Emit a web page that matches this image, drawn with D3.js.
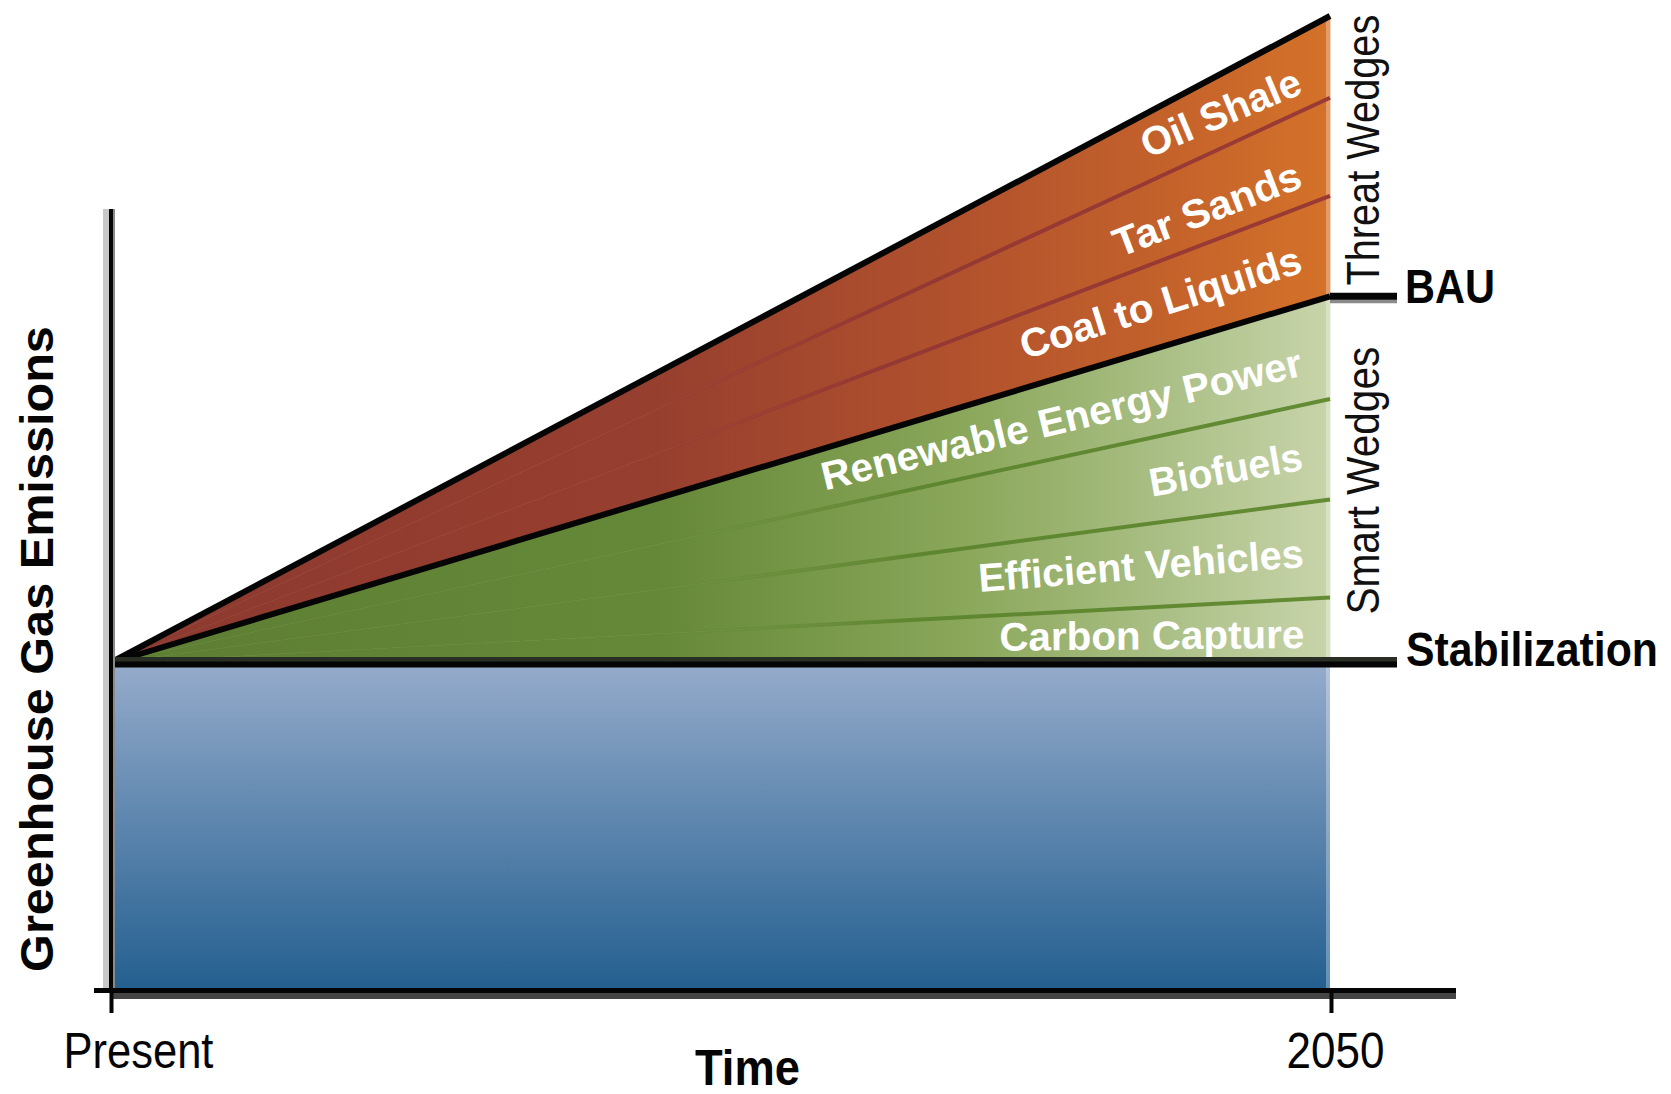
<!DOCTYPE html>
<html>
<head>
<meta charset="utf-8">
<script src="https://cdn.jsdelivr.net/npm/d3@7"></script>
<style>
  html, body { margin: 0; padding: 0; background: #ffffff; }
  svg { display: block; }
  text { font-family: "Liberation Sans", Arial, Helvetica, sans-serif; }
</style>
</head>
<body>
<svg id="chart" width="1671" height="1094"></svg>
<script>
// ---- data -------------------------------------------------------------
// time runs from the present (0) to 2050 (1)
const timeTicks = [0, 1];
const timeLabels = ["Present", "2050"];

// emissions level held flat under a stabilization path
const stabilization = 7;

// smart wedges: reductions reached by 2050, stacked upward from stabilization
const smartNames  = ["Carbon Capture", "Efficient Vehicles", "Biofuels", "Renewable Energy Power"];
const smartValues = [1.4, 2.1, 2.15, 2.2];

// threat wedges: extra emissions reached by 2050, stacked upward from BAU
const threatNames  = ["Coal to Liquids", "Tar Sands", "Oil Shale"];
const threatValues = [2.15, 2.1, 1.75];

// ---- layout -----------------------------------------------------------
const svg = d3.select("#chart");
const x = d3.scaleLinear().domain([0, 1]).range([110, 1330]);
const y = d3.scaleLinear().domain([0, stabilization]).range([990, 663]);
const marginLineEnd = 1397;          // right-hand reference lines stop here
const axisEnd = 1456;                // x axis runs past 2050
const yAxisTop = 209;

const smartTops  = Array.from(d3.cumsum(smartValues), v => stabilization + v);
const bau        = smartTops[smartTops.length - 1];
const threatTops = Array.from(d3.cumsum(threatValues), v => bau + v);
const peak       = threatTops[threatTops.length - 1];

const wedges = [];
smartNames.forEach((n, i) => wedges.push({
  name: n, group: "smart",
  lo: i === 0 ? stabilization : smartTops[i - 1], hi: smartTops[i]
}));
threatNames.forEach((n, i) => wedges.push({
  name: n, group: "threat",
  lo: i === 0 ? bau : threatTops[i - 1], hi: threatTops[i]
}));

// every wedge grows linearly from the stabilization level at present
const level = (v, t) => stabilization + t * (v - stabilization);
const ts = [0, 1];

// Narrow, tall lettering: pick a font size that gives the wanted run length,
// then stretch the glyphs across the baseline to the wanted height.
function tallText(parent, str, o) {
  const t = parent.append("text")
    .attr("font-size", o.size)
    .attr("font-weight", o.weight || "normal")
    .attr("fill", o.fill || "#050505")
    .attr("text-anchor", o.anchor || "start")
    .text(str);
  const natural = t.node().getComputedTextLength();
  const fs = o.size * o.len / natural;
  const k = o.size / fs;
  t.attr("font-size", fs)
   .attr("transform", `translate(${o.x},${o.y}) rotate(${o.rotate || 0}) scale(1,${k})`);
  return t;
}

// ---- gradients --------------------------------------------------------
const defs = svg.append("defs");
function hGrad(id, stops) {
  const g = defs.append("linearGradient").attr("id", id)
    .attr("gradientUnits", "userSpaceOnUse")
    .attr("x1", x(0)).attr("x2", x(1)).attr("y1", 0).attr("y2", 0);
  stops.forEach(([o, c, a]) => g.append("stop").attr("offset", o)
    .attr("stop-color", c).attr("stop-opacity", a === undefined ? 1 : a));
}
hGrad("threatFill", [[0, "#8c392f"], [0.45, "#973f2f"], [0.7, "#b2522d"], [0.87, "#c4622b"], [1, "#d4722a"]]);
hGrad("smartFill",  [[0, "#5d7e33"], [0.45, "#658838"], [0.7, "#8aa75a"], [0.87, "#abc087"], [1, "#c8d4aa"]]);
// dividers fade in from the left so they vanish into the darker fill
hGrad("threatLine", [[0, "#943833", 0], [0.42, "#943833", 0], [0.62, "#943833", 1], [1, "#9a3a34", 1]]);
hGrad("smartLine",  [[0, "#5e8530", 0], [0.45, "#5e8530", 0], [0.66, "#5e8530", 1], [1, "#638c33", 1]]);
const bg = defs.append("linearGradient").attr("id", "baseFill")
  .attr("gradientUnits", "userSpaceOnUse")
  .attr("x1", 0).attr("x2", 0).attr("y1", y(stabilization)).attr("y2", y(0));
bg.append("stop").attr("offset", 0).attr("stop-color", "#95abcb");
bg.append("stop").attr("offset", 1).attr("stop-color", "#235f8f");

// ---- areas ------------------------------------------------------------
const plot = svg.append("g");

// base emissions below stabilization
plot.append("path")
  .datum(ts)
  .attr("fill", "url(#baseFill)")
  .attr("d", d3.area().x(t => x(t)).y0(y(0)).y1(y(stabilization)));

// wedges
plot.selectAll("path.wedge")
  .data(wedges)
  .join("path")
  .attr("class", "wedge")
  .attr("fill", d => d.group === "smart" ? "url(#smartFill)" : "url(#threatFill)")
  .attr("stroke", d => d.group === "smart" ? "url(#smartFill)" : "url(#threatFill)")
  .attr("stroke-width", 0.6)
  .attr("d", d => d3.area()
    .x(t => x(t))
    .y0(t => y(level(d.lo, t)))
    .y1(t => y(level(d.hi, t)))(ts));

// soft highlight along the 2050 edge
plot.append("line")
  .attr("x1", x(1) - 2).attr("x2", x(1) - 2)
  .attr("y1", y(level(peak, 1))).attr("y2", y(0))
  .attr("stroke", "#ffffff").attr("stroke-opacity", 0.3).attr("stroke-width", 4);

// thin dividers between wedges of the same group
const divider = v => d3.line().x(t => x(t)).y(t => y(level(v, t)))(ts);
plot.selectAll("path.threat-div")
  .data(threatTops.slice(0, -1))
  .join("path")
  .attr("class", "threat-div")
  .attr("fill", "none").attr("stroke", "url(#threatLine)").attr("stroke-width", 4)
  .attr("d", divider);
plot.selectAll("path.smart-div")
  .data(smartTops.slice(0, -1))
  .join("path")
  .attr("class", "smart-div")
  .attr("fill", "none").attr("stroke", "url(#smartLine)").attr("stroke-width", 4)
  .attr("d", divider);

// heavy outlines: top of threat wedges and BAU
plot.append("path")
  .attr("fill", "none").attr("stroke", "#050505").attr("stroke-width", 6)
  .attr("d", divider(peak));
plot.append("path")
  .attr("fill", "none").attr("stroke", "#050505").attr("stroke-width", 6)
  .attr("d", divider(bau));

// BAU reference line to the margin
svg.append("line")
  .attr("x1", x(1)).attr("x2", marginLineEnd)
  .attr("y1", y(bau) + 5).attr("y2", y(bau) + 5)
  .attr("stroke", "#8a8a8a").attr("stroke-width", 4);
svg.append("line")
  .attr("x1", x(1)).attr("x2", marginLineEnd)
  .attr("y1", y(bau)).attr("y2", y(bau))
  .attr("stroke", "#050505").attr("stroke-width", 7);

// stabilization line across the chart and into the margin
svg.append("line")
  .attr("x1", x(0)).attr("x2", marginLineEnd)
  .attr("y1", y(stabilization) - 3).attr("y2", y(stabilization) - 3)
  .attr("stroke", "#2a2f26").attr("stroke-width", 6);
svg.append("line")
  .attr("x1", x(0)).attr("x2", marginLineEnd)
  .attr("y1", y(stabilization) + 1.5).attr("y2", y(stabilization) + 1.5)
  .attr("stroke", "#050505").attr("stroke-width", 6);

// ---- wedge labels -----------------------------------------------------
const labelStyle = {
  "Oil Shale":              { angle: -22.8, dy: 23, len: 170 },
  "Tar Sands":              { angle: -21,   dy: 29, len: 198 },
  "Coal to Liquids":        { angle: -17.4, dy: 17, len: 293 },
  "Renewable Energy Power": { angle: -13.5, dy: 21, len: 493 },
  "Biofuels":               { angle: -10,   dy: 16, len: 155 },
  "Efficient Vehicles":     { angle: -4.4,  dy: 16, len: 326 },
  "Carbon Capture":         { angle: -0.5,  dy: 17, len: 305 }
};
const labelAt = 0.979;
const labelLayer = svg.append("g");
wedges.forEach(d => {
  const s = labelStyle[d.name];
  const mid = (y(level(d.lo, labelAt)) + y(level(d.hi, labelAt))) / 2;
  tallText(labelLayer, d.name, {
    x: x(labelAt), y: mid + s.dy, rotate: s.angle, len: s.len,
    size: 40, weight: "bold", fill: "#ffffff", anchor: "end"
  });
});

// ---- axes -------------------------------------------------------------
// y axis: soft halo, then the line itself
svg.append("line").attr("x1", 106).attr("x2", 106).attr("y1", yAxisTop).attr("y2", y(0))
  .attr("stroke", "#c8c8c8").attr("stroke-width", 6);
svg.append("line").attr("x1", 114).attr("x2", 114).attr("y1", yAxisTop).attr("y2", y(0))
  .attr("stroke", "#8a8a8a").attr("stroke-width", 2);
const yAxis = svg.append("g")
  .attr("transform", `translate(${x(0) + 1},0)`)
  .call(d3.axisLeft(y).tickValues([0]).tickSize(17).tickFormat("").tickSizeOuter(0));
yAxis.select(".domain").remove();
yAxis.selectAll(".tick line").attr("stroke", "#050505").attr("stroke-width", 5);
svg.append("line").attr("x1", x(0) + 1).attr("x2", x(0) + 1).attr("y1", yAxisTop).attr("y2", y(0))
  .attr("stroke", "#050505").attr("stroke-width", 4);

// x axis: dark shadow below a black rule
svg.append("line").attr("x1", x(0)).attr("x2", axisEnd).attr("y1", y(0) + 6).attr("y2", y(0) + 6)
  .attr("stroke", "#454545").attr("stroke-width", 6);
svg.append("line").attr("x1", x(0) - 2).attr("x2", axisEnd).attr("y1", y(0) + 0.5).attr("y2", y(0) + 0.5)
  .attr("stroke", "#050505").attr("stroke-width", 5);

const xAxis = svg.append("g")
  .attr("transform", `translate(1,${y(0)})`)
  .call(d3.axisBottom(x).tickValues(timeTicks).tickSize(23).tickSizeOuter(0)
    .tickFormat(""));
xAxis.select(".domain").remove();
xAxis.selectAll(".tick line").attr("stroke", "#050505").attr("stroke-width", 4);
// tick labels: "Present" sits just right of its tick, "2050" is centred
xAxis.selectAll(".tick").each(function (d, i) {
  tallText(d3.select(this), timeLabels[i], {
    x: i === 0 ? -48 : 4, y: 78, len: i === 0 ? 150 : 98, size: 50,
    anchor: i === 0 ? "start" : "middle"
  });
});

// ---- titles -----------------------------------------------------------
tallText(svg, "Time", { x: 695, y: 1085, len: 105, size: 50, weight: "bold" });

tallText(svg, "Greenhouse Gas Emissions", {
  x: 53, y: 649, rotate: -90, len: 646, size: 47, weight: "bold", anchor: "middle"
});

// margin labels
tallText(svg, "BAU", { x: 1405, y: y(bau) + 7, len: 90, size: 48, weight: "bold" });
tallText(svg, "Stabilization", { x: 1406, y: y(stabilization) + 3, len: 252, size: 49, weight: "bold" });

tallText(svg, "Threat Wedges", {
  x: 1379, y: (y(level(peak, 1)) + y(bau)) / 2 - 6, rotate: -90,
  len: 271, size: 46, fill: "#111111", anchor: "middle"
});
tallText(svg, "Smart Wedges", {
  x: 1379, y: (y(bau) + y(stabilization)) / 2 + 1, rotate: -90,
  len: 268, size: 46, fill: "#111111", anchor: "middle"
});
</script>
</body>
</html>
